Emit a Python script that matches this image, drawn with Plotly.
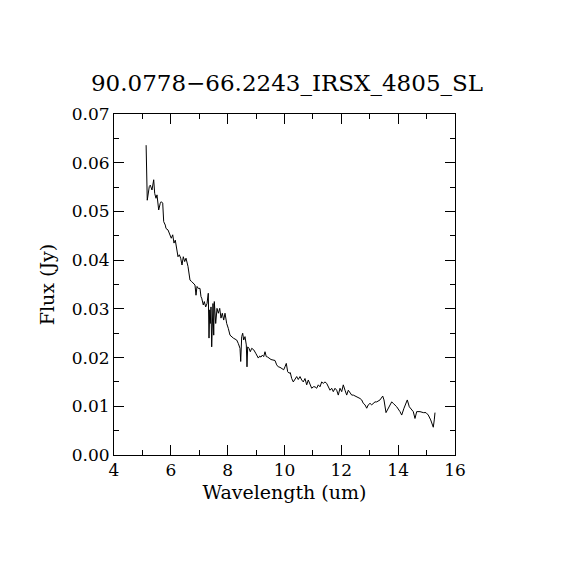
import plotly.graph_objects as go

wavelength = [
    5.13, 5.15, 5.17, 5.242, 5.277, 5.337, 5.397, 5.432, 5.478, 5.513, 5.548, 5.573,
    5.629, 5.664, 5.714, 5.749, 5.805, 5.830, 5.900, 5.946, 6.016, 6.066, 6.111,
    6.157, 6.206, 6.252, 6.298, 6.347, 6.393, 6.439, 6.488, 6.534, 6.604, 6.650,
    6.674, 6.734, 6.791, 6.850, 6.886, 6.921, 6.966, 7.026, 7.061, 7.086, 7.142,
    7.178, 7.227, 7.273, 7.318, 7.343, 7.368, 7.389, 7.413, 7.438, 7.484, 7.509,
    7.530, 7.579, 7.625, 7.671, 7.720, 7.765, 7.811, 7.860, 7.906, 7.966, 8.022,
    8.082, 8.198, 8.318, 8.374, 8.434, 8.459, 8.494, 8.529, 8.564, 8.610, 8.656,
    8.680, 8.705, 8.751, 8.796, 8.846, 8.916, 8.986, 9.032, 9.078, 9.127, 9.173,
    9.219, 9.268, 9.314, 9.359, 9.409, 9.454, 9.525, 9.595, 9.666, 9.725, 9.782,
    9.841, 9.901, 9.972, 10.017, 10.063, 10.112, 10.158, 10.204, 10.253, 10.310,
    10.369, 10.429, 10.485, 10.545, 10.605, 10.661, 10.721, 10.781, 10.837, 10.897,
    10.957, 11.013, 11.073, 11.133, 11.189, 11.249, 11.309, 11.365, 11.425, 11.485,
    11.541, 11.601, 11.661, 11.717, 11.777, 11.837, 11.893, 11.953, 12.013, 12.069,
    12.129, 12.189, 12.245, 12.305, 12.365, 12.421, 12.541, 12.657, 12.717, 12.773,
    12.833, 12.893, 12.949, 13.009, 13.069, 13.125, 13.185, 13.245, 13.361, 13.456,
    13.501, 13.572, 13.653, 13.712, 13.772, 13.828, 13.948, 14.064, 14.124, 14.205,
    14.321, 14.392, 14.476, 14.532, 14.592, 14.652, 14.768, 14.884, 14.979, 15.060,
    15.145, 15.215, 15.236, 15.271, 15.296,
]

flux = [
    0.0636, 0.0587, 0.0523, 0.0551, 0.0554, 0.0544, 0.0565, 0.0537, 0.0527, 0.0534,
    0.0513, 0.0503, 0.0517, 0.0520, 0.0517, 0.0479, 0.0472, 0.0465, 0.0462, 0.0455,
    0.0445, 0.0452, 0.0435, 0.0441, 0.0424, 0.0407, 0.0411, 0.0404, 0.0390, 0.0407,
    0.0397, 0.0404, 0.0387, 0.0366, 0.0359, 0.0356, 0.0352, 0.0349, 0.0328, 0.0346,
    0.0342, 0.0342, 0.0325, 0.0322, 0.0308, 0.0315, 0.0304, 0.0311, 0.0332, 0.0240,
    0.0298, 0.0270, 0.0304, 0.0222, 0.0311, 0.0246, 0.0315, 0.0270, 0.0301, 0.0291,
    0.0301, 0.0281, 0.0291, 0.0277, 0.0291, 0.0270, 0.0260, 0.0246, 0.0240, 0.0236,
    0.0229, 0.0219, 0.0192, 0.0243, 0.0250, 0.0236, 0.0243, 0.0226, 0.0181, 0.0222,
    0.0219, 0.0212, 0.0219, 0.0216, 0.0209, 0.0202, 0.0199, 0.0203, 0.0201, 0.0205,
    0.0202, 0.0212, 0.0202, 0.0201, 0.0199, 0.0196, 0.0195, 0.0194, 0.0185, 0.0181,
    0.0180, 0.0178, 0.0175, 0.0181, 0.0188, 0.0171, 0.0168, 0.0169, 0.0157, 0.0150,
    0.0157, 0.0161, 0.0155, 0.0161, 0.0154, 0.0150, 0.0157, 0.0144, 0.0154, 0.0147,
    0.0137, 0.0140, 0.0140, 0.0137, 0.0144, 0.0140, 0.0150, 0.0147, 0.0150, 0.0147,
    0.0140, 0.0133, 0.0137, 0.0130, 0.0137, 0.0133, 0.0123, 0.0137, 0.0130, 0.0144,
    0.0133, 0.0123, 0.0133, 0.0127, 0.0123, 0.0123, 0.0120, 0.0116, 0.0113, 0.0106,
    0.0103, 0.0096, 0.0103, 0.0106, 0.0103, 0.0106, 0.0109, 0.0109, 0.0113, 0.0121,
    0.0113, 0.0087, 0.0096, 0.0103, 0.0109, 0.0106, 0.0099, 0.0089, 0.0082, 0.0096,
    0.0113, 0.0099, 0.0092, 0.0089, 0.0075, 0.0089, 0.0089, 0.0087, 0.0087, 0.0082,
    0.0072, 0.0062, 0.0057, 0.0072, 0.0087,
]

x_ticks = [4, 6, 8, 10, 12, 14, 16]
y_ticks = [0.00, 0.01, 0.02, 0.03, 0.04, 0.05, 0.06, 0.07]

title_text = "90.0778\u221266.2243_IRSX_4805_SL"
x_label = "Wavelength (um)"
y_label = "Flux (Jy)"

FONT = "DejaVu Serif"

fig = go.Figure()
fig.add_trace(go.Scatter(
    x=wavelength, y=flux, mode="lines",
    line=dict(color="black", width=1),
    showlegend=False,
))

axis_common = dict(
    showgrid=False, zeroline=False,
    showline=True, linecolor="black", linewidth=1, mirror="allticks",
    ticks="inside", ticklen=10, tickwidth=1, tickcolor="black",
    tickfont=dict(family=FONT, size=17, color="black"),
    minor=dict(ticks="inside", ticklen=5, tickwidth=1, tickcolor="black"),
)

fig.update_xaxes(
    range=[4, 16], tickvals=x_ticks, ticktext=[str(v) for v in x_ticks],
    title=dict(text=x_label, font=dict(family=FONT, size=19, color="black"), standoff=6),
    **axis_common,
)
fig.layout.xaxis.minor.dtick = 1
fig.update_yaxes(
    range=[0, 0.07], tickvals=y_ticks, ticktext=[f"{v:.2f}" for v in y_ticks],
    title=dict(text=y_label, font=dict(family=FONT, size=19, color="black"), standoff=12),
    **axis_common,
)
fig.layout.yaxis.minor.dtick = 0.005

fig.update_layout(
    width=570, height=570,
    margin=dict(l=106, r=123, t=106, b=123),
    paper_bgcolor="white", plot_bgcolor="white",
    title=dict(text=title_text, x=279 / 570, xanchor="center", y=1 - 75 / 570, yanchor="middle",
               yref="container",
               font=dict(family=FONT, size=23, color="black")),
)

fig.write_html("out.html")
